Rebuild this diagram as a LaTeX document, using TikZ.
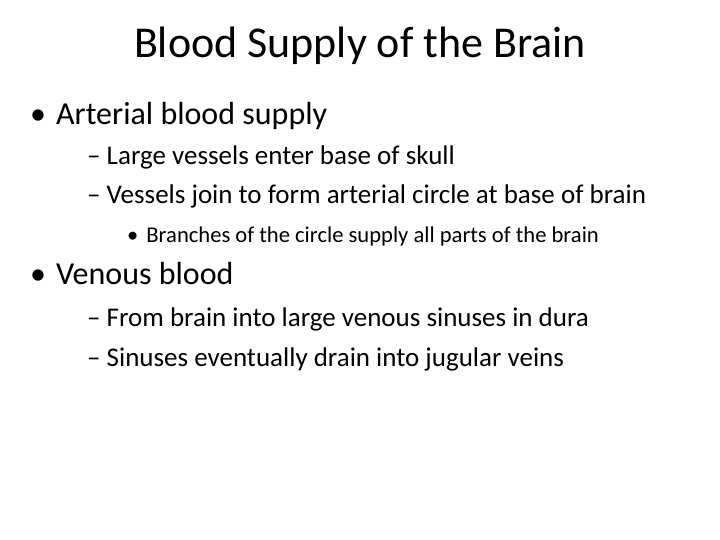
\documentclass[tikz,border=0pt]{standalone}
\usepackage{fontspec}
\setmainfont{Carlito}
\begin{document}
\begin{tikzpicture}[x=1pt,y=-1pt,
  t/.style={anchor=west,inner sep=0pt}]
\useasboundingbox[fill=white] (0,0) rectangle (720,540);
\node[inner sep=0pt] (title) at (360,46) {\fontsize{44}{52}\selectfont Blood Supply of the Brain};
\node[t] (b1) at (30,116) {\fontsize{32}{38}\selectfont •\hspace{10pt}Arterial blood supply};
\node[t] (s1) at (87,157) {\fontsize{27}{32}\selectfont – Large vessels enter base of skull};
\node[t] (s2) at (87,196) {\fontsize{27}{32}\selectfont – Vessels join to form arterial circle at base of brain};
\node[t] (ss1) at (127,236) {\fontsize{22.6}{27}\selectfont •\hspace{8pt}Branches of the circle supply all parts of the brain};
\node[t] (b2) at (30,274) {\fontsize{32}{38}\selectfont •\hspace{10pt}Venous blood};
\node[t] (s3) at (87,319) {\fontsize{27}{32}\selectfont – From brain into large venous sinuses in dura};
\node[t] (s4) at (87,359) {\fontsize{27}{32}\selectfont – Sinuses eventually drain into jugular veins};
\end{tikzpicture}
\end{document}
